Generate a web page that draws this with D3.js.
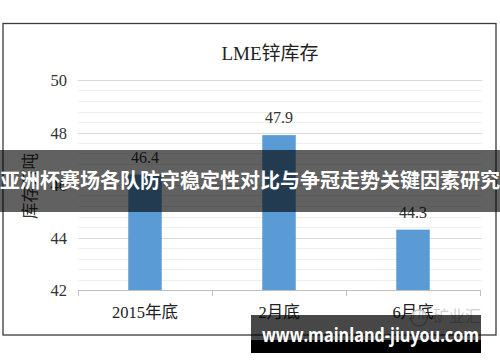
<!DOCTYPE html>
<html>
<head>
<meta charset="utf-8">
<script src="https://cdn.jsdelivr.net/npm/d3@7"></script>
<style>
  html, body { margin: 0; padding: 0; background: #fff; }
  svg { display: block; }
</style>
</head>
<body>
<svg id="chart"></svg>
<script>
const width = 500
const height = 362

const categories = ['2015年底', '2月底', '6月底']
const values = [46.4, 47.9, 44.3]
const yTicks = [42, 44, 46, 48, 50]
const title = 'LME锌库存'
const yLabel = '库存万吨'
const banner = '亚洲杯赛场各队防守稳定性对比与争冠走势关键因素研究'
const site = 'www.mainland-jiuyou.com'
const mark = '矿业汇'

const serif = '"Liberation Serif", "Times New Roman", "Noto Sans CJK SC", serif'
const cjk = '"Noto Sans CJK SC", "Noto Sans", sans-serif'

const svg = d3.select('#chart').attr('width', width).attr('height', height)

const x = d3.scaleBand().domain(categories).range([78, 480]).paddingInner(0.75).paddingOuter(0.375)
const y = d3.scaleLinear().domain([42, 50]).range([290, 80])

// outer frame
svg.append('rect')
  .attr('x', 3).attr('y', 23.5).attr('width', 493).attr('height', 311.5)
  .attr('fill', 'none').attr('stroke', '#3a3a3a').attr('stroke-width', 1.3)

// minor gridlines every 0.4
svg.append('g')
  .selectAll('line')
  .data(d3.range(42.4, 50, 0.4))
  .join('line')
  .attr('x1', 78).attr('x2', 482)
  .attr('y1', d => Math.round(y(d)) + 0.5).attr('y2', d => Math.round(y(d)) + 0.5)
  .attr('stroke', '#eeeeee')

// major gridlines
svg.append('g')
  .selectAll('line')
  .data(yTicks.slice(1))
  .join('line')
  .attr('x1', 78).attr('x2', 482)
  .attr('y1', d => Math.round(y(d)) + 0.5).attr('y2', d => Math.round(y(d)) + 0.5)
  .attr('stroke', '#d9d9d9')

// y tick labels
svg.append('g')
  .selectAll('text')
  .data(yTicks)
  .join('text')
  .attr('x', 67).attr('y', d => y(d) + 6)
  .attr('text-anchor', 'end')
  .attr('font-family', serif).attr('font-size', 16.5).attr('fill', '#333')
  .text(d => d)

// bars
svg.append('g')
  .selectAll('rect')
  .data(values)
  .join('rect')
  .attr('x', (d, i) => x(categories[i]))
  .attr('width', x.bandwidth())
  .attr('y', d => y(d))
  .attr('height', d => y(42) - y(d))
  .attr('fill', '#5b9bd5')

// value labels
svg.append('g')
  .selectAll('text')
  .data(values)
  .join('text')
  .attr('x', (d, i) => x(categories[i]) + x.bandwidth() / 2)
  .attr('y', d => y(d) - 12)
  .attr('text-anchor', 'middle')
  .attr('font-family', serif).attr('font-size', 16).attr('fill', '#333')
  .text(d => d)

// x axis: baseline plus ticks on band boundaries
const step = x.step()
const bounds = categories.map(c => x(c) + x.bandwidth() / 2 - step / 2)
bounds.push(bounds[bounds.length - 1] + step)
const gx = svg.append('g').attr('transform', `translate(0,${y(42)})`)
gx.append('line').attr('x1', 78).attr('x2', 480).attr('y1', 0.5).attr('y2', 0.5).attr('stroke', '#bfbfbf')
gx.selectAll('.bound')
  .data(bounds)
  .join('line')
  .attr('class', 'bound')
  .attr('x1', d => Math.round(d) + 0.5).attr('x2', d => Math.round(d) + 0.5)
  .attr('y1', 0).attr('y2', 6)
  .attr('stroke', '#bfbfbf')

svg.append('g')
  .selectAll('text')
  .data(categories)
  .join('text')
  .attr('x', d => x(d) + x.bandwidth() / 2)
  .attr('y', 318)
  .attr('text-anchor', 'middle')
  .attr('font-family', serif).attr('font-size', 16.5).attr('fill', '#222')
  .text(d => d)

// title
svg.append('text')
  .attr('x', 270).attr('y', 60)
  .attr('text-anchor', 'middle')
  .attr('font-family', serif).attr('font-size', 19).attr('fill', '#222')
  .text(title)

// y axis label
svg.append('text')
  .attr('transform', 'translate(36,186) rotate(-90)')
  .attr('text-anchor', 'middle')
  .attr('font-family', cjk).attr('font-size', 16.5).attr('fill', '#333')
  .text(yLabel)

// faint watermark with logo
svg.append('circle')
  .attr('cx', 419).attr('cy', 318).attr('r', 8)
  .attr('fill', '#fff').attr('fill-opacity', 0.75)
  .attr('stroke', '#c4c4c4').attr('stroke-width', 1.5)
svg.append('text')
  .attr('x', 433).attr('y', 322)
  .attr('font-family', cjk).attr('font-size', 16).attr('fill', '#cfcfcf')
  .text(mark)

// banner overlay
svg.append('rect')
  .attr('x', 0).attr('y', 150).attr('width', width).attr('height', 62)
  .attr('fill', '#000').attr('fill-opacity', 0.62)
svg.append('text')
  .attr('x', 250).attr('y', 188)
  .attr('text-anchor', 'middle')
  .attr('font-family', cjk).attr('font-weight', 'bold').attr('font-size', 20)
  .attr('fill', '#fff')
  .text(banner)

// site overlay
svg.append('rect')
  .attr('x', 251).attr('y', 315).attr('width', 230).attr('height', 38)
  .attr('fill', '#000').attr('fill-opacity', 0.72)
svg.append('rect')
  .attr('x', 251).attr('y', 340).attr('width', 230).attr('height', 13)
  .attr('fill', '#000')
svg.append('text')
  .attr('x', 370.5).attr('y', 342)
  .attr('text-anchor', 'middle')
  .attr('font-family', '"Open Sans", "Noto Sans", sans-serif').attr('font-weight', 'bold').attr('font-size', 19)
  .attr('textLength', 217).attr('lengthAdjust', 'spacingAndGlyphs')
  .attr('fill', '#fff')
  .text(site)
</script>
</body>
</html>
